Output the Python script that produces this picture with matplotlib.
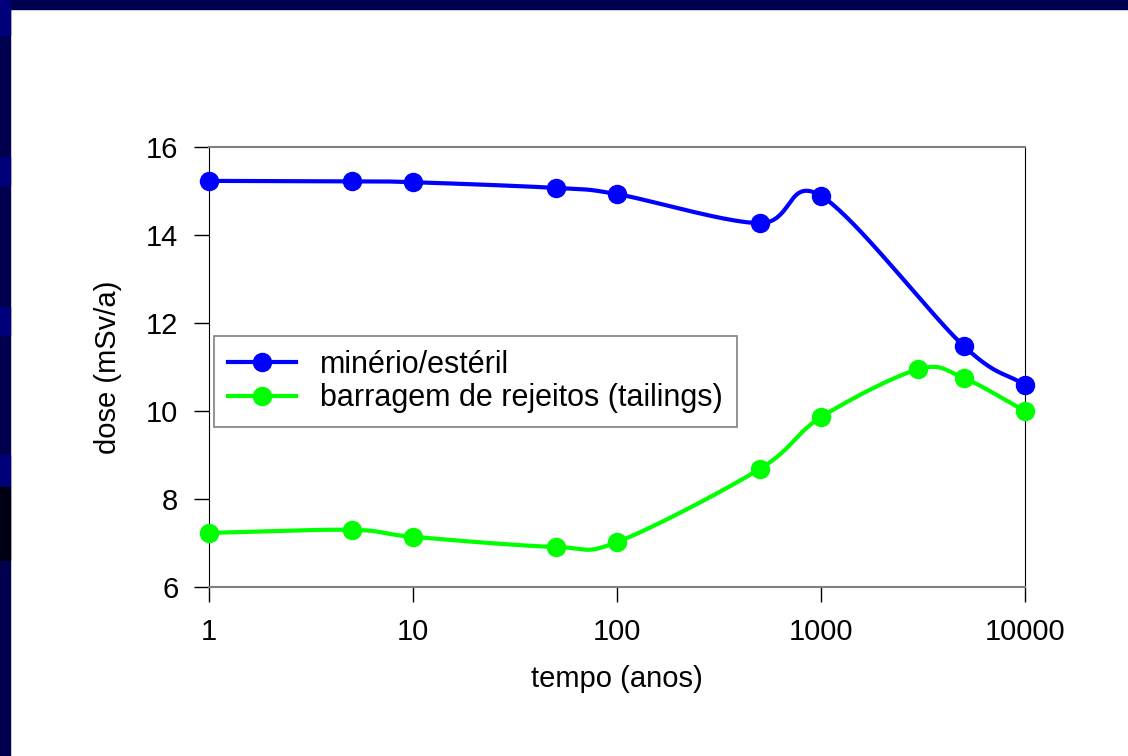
import numpy as np
import matplotlib.pyplot as plt
from matplotlib.lines import Line2D
from matplotlib.patches import Rectangle

plt.rcParams['font.family'] = ['Liberation Sans', 'DejaVu Sans']

# dose over time for the two sources
t_ore = [1, 5, 10, 50, 100, 500, 1000, 5000, 10000]
dose_ore = [15.23, 15.22, 15.2, 15.07, 14.93, 14.27, 14.89, 11.48, 10.59]

t_tail = [1, 5, 10, 50, 100, 500, 1000, 3000, 5000, 10000]
dose_tail = [7.23, 7.3, 7.14, 6.91, 7.02, 8.68, 9.86, 10.95, 10.75, 10.0]

label_ore = "minério/estéril"
label_tail = "barragem de rejeitos (tailings)"


def smooth(xs, ys, n=40):
    # Catmull-Rom curve through the points, computed in log10(x)
    lx = np.log10(xs)
    ys = np.asarray(ys, dtype=float)
    px = np.concatenate([[2 * lx[0] - lx[1]], lx, [2 * lx[-1] - lx[-2]]])
    py = np.concatenate([[2 * ys[0] - ys[1]], ys, [2 * ys[-1] - ys[-2]]])
    out_x, out_y = [], []
    s = np.linspace(0, 1, n)
    for i in range(1, len(px) - 2):
        x0, x1, x2, x3 = px[i - 1:i + 3]
        y0, y1, y2, y3 = py[i - 1:i + 3]
        # bezier control points
        cx1, cy1 = x1 + (x2 - x0) / 6, y1 + (y2 - y0) / 6
        cx2, cy2 = x2 - (x3 - x1) / 6, y2 - (y3 - y1) / 6
        bx = (1 - s) ** 3 * x1 + 3 * (1 - s) ** 2 * s * cx1 + 3 * (1 - s) * s ** 2 * cx2 + s ** 3 * x2
        by = (1 - s) ** 3 * y1 + 3 * (1 - s) ** 2 * s * cy1 + 3 * (1 - s) * s ** 2 * cy2 + s ** 3 * y2
        out_x.extend(bx)
        out_y.extend(by)
    return 10 ** np.array(out_x), np.array(out_y)


fig = plt.figure(figsize=(11.28, 7.56), dpi=100)
fig.patch.set_facecolor('white')

# slide frame
navy = '#00004f'
fig.patches.append(Rectangle((0, 1 - 9 / 756), 1, 9 / 756, transform=fig.transFigure, color=navy, zorder=0))
fig.patches.append(Rectangle((0, 0), 10 / 1128, 1, transform=fig.transFigure, color=navy, zorder=0))
for y0, y1, c in [(0, 35, '#00007a'), (157, 185, '#00007a'), (307, 335, '#00007a'),
                  (455, 487, '#00007a'), (487, 560, '#000014')]:
    fig.patches.append(Rectangle((0, 1 - y1 / 756), 10 / 1128, (y1 - y0) / 756,
                                 transform=fig.transFigure, color=c, zorder=1))

ax = fig.add_axes([209 / 1128, 1 - 587 / 756, 816 / 1128, 440 / 756])

blue = '#0000ff'
green = '#00ff00'

sx, sy = smooth(t_ore, dose_ore)
ax.plot(sx, sy, color=blue, lw=3, zorder=3)
ax.plot(t_ore, dose_ore, 'o', color=blue, ms=13, zorder=4, clip_on=False)

sx, sy = smooth(t_tail, dose_tail)
ax.plot(sx, sy, color=green, lw=3, zorder=3)
ax.plot(t_tail, dose_tail, 'o', color=green, ms=13, zorder=4, clip_on=False)

ax.set_xscale('log')
ax.set_xlim(1, 10000)
ax.set_ylim(6, 16)
ax.set_xticks([1, 10, 100, 1000, 10000])
ax.set_xticklabels(['1', '10', '100', '1000', '10000'])
ax.xaxis.set_minor_locator(plt.NullLocator())
ax.set_yticks([6, 8, 10, 12, 14, 16])

ax.tick_params(axis='both', direction='out', length=11, width=1, color='black',
               labelsize=21, labelcolor='black')
ax.tick_params(axis='y', pad=11)
ax.tick_params(axis='x', pad=11)

ax.spines['top'].set_color('#808080')
ax.spines['bottom'].set_color('#808080')
ax.spines['top'].set_linewidth(1.5)
ax.spines['bottom'].set_linewidth(1.5)
ax.spines['left'].set_color('black')
ax.spines['right'].set_color('black')

ax.set_xlabel("tempo (anos)", fontsize=21, labelpad=14)
ax.set_ylabel("dose (mSv/a)", fontsize=21, labelpad=17)

handles = [Line2D([], [], color=blue, lw=3, marker='o', ms=13),
           Line2D([], [], color=green, lw=3, marker='o', ms=13)]
leg = ax.legend(handles, [label_ore, label_tail], loc='upper left',
                bbox_to_anchor=(214 / 1128, 1 - 336 / 756), bbox_transform=fig.transFigure,
                fontsize=22, frameon=True, fancybox=False, handlelength=2.23,
                borderpad=0.45, labelspacing=0.12, handletextpad=0.8, borderaxespad=0)
leg.get_frame().set_edgecolor('#606060')
leg.get_frame().set_linewidth(1.2)

fig.savefig("out.png", dpi=100)
